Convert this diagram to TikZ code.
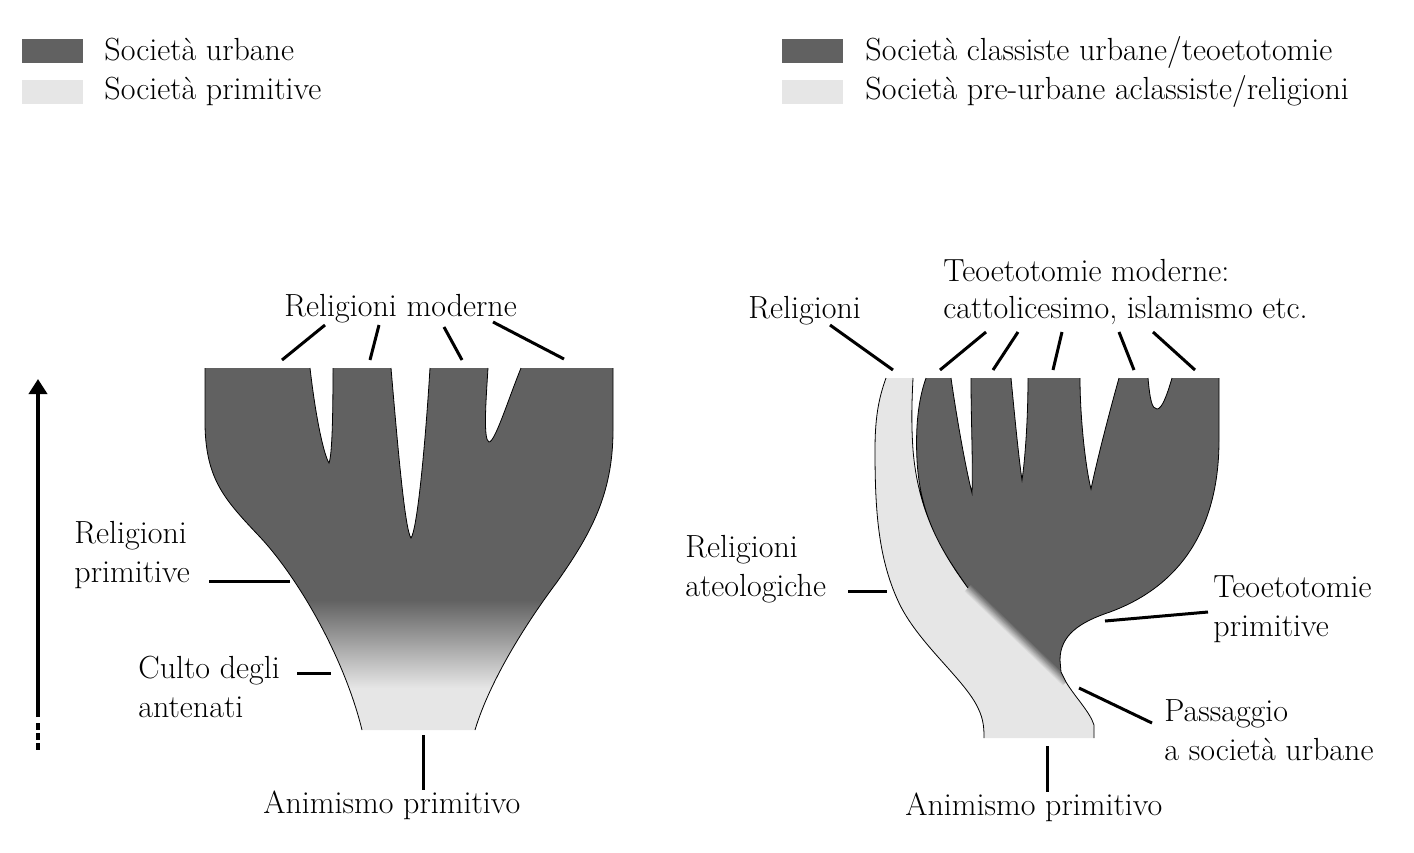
\documentclass[tikz,border=0pt]{standalone}
\usepackage{fontspec}
\usetikzlibrary{arrows.meta}
\usetikzlibrary{calc}
\definecolor{urbgray}{RGB}{97,97,97}    % urban societies
\definecolor{primgray}{RGB}{230,230,230} % primitive societies

% left tree (pixel grid, y downwards)
\def\lsideL{(362,730) .. controls (345,660) and (300,580) .. (260,537) .. controls (225,500) and (206,480) .. (205,425) -- (205,368)}
\def\lnotchA{(310,368) .. controls (316,420) and (324,455) .. (329,463) .. controls (332,455) and (333,420) .. (333,368)}
\def\lnotchB{(391,368) .. controls (398,450) and (405,530) .. (411,538) .. controls (417,530) and (425,450) .. (430,368)}
\def\lnotchC{(488,368) .. controls (486,400) and (483,440) .. (489,442) .. controls (495,442) and (508,400) .. (521,368)}
\def\lsideR{(613,368) -- (613,430) .. controls (613,495) and (590,535) .. (557,582) .. controls (527,622) and (490,680) .. (475,730)}
% right tree
\def\bandL{(886,378) .. controls (878,400) and (875,420) .. (875,450) .. controls (875,510) and (878,560) .. (900,605) .. controls (920,645) and (965,680) .. (978,708) .. controls (984,720) and (984,730) .. (984,738)}
\def\bandRlow{(1094,738) -- (1094,725) .. controls (1090,712) and (1075,697) .. (1066,682)}
\def\bandRup{(968,588) .. controls (940,550) and (918,510) .. (913,450) .. controls (911,420) and (912,400) .. (913,378)}
\def\darkL{(968,588) .. controls (945,555) and (920,520) .. (917,460) .. controls (915,420) and (920,395) .. (926,378)}
\def\rnotchA{(951,378) .. controls (957,420) and (966,470) .. (972,493) .. controls (973,460) and (971,420) .. (971,378)}
\def\rnotchB{(1011,378) .. controls (1015,420) and (1019,460) .. (1022,480) .. controls (1025,460) and (1028,420) .. (1028,378)}
\def\rnotchC{(1080,378) .. controls (1080,420) and (1086,470) .. (1091,489) .. controls (1097,460) and (1110,410) .. (1119,378)}
\def\rnotchD{(1148,378) .. controls (1150,400) and (1152,409) .. (1157,409) .. controls (1162,409) and (1167,395) .. (1172,378)}
\def\darkR{(1219,378) -- (1219,440) .. controls (1219,540) and (1170,590) .. (1110,612) .. controls (1080,622) and (1060,635) .. (1060,660) -- (1061,672) -- (1066,682)}

\begin{document}
\begin{tikzpicture}
  [x=0.5pt,y=-0.5pt,
   every node/.style={inner sep=0pt,anchor=base west,align=left,font=\fontsize{16}{19.5}\selectfont},
   keybox/.style={anchor=north west,minimum width=30.5pt,minimum height=12pt},
   leader/.style={line width=1.5pt},
   outline/.style={line width=0.4pt}]
  \useasboundingbox (0,0) rectangle (1414,852);

  \node (keyurb)[keybox,fill=urbgray]  at (22,39)  {};
  \node (keyprim)[keybox,fill=primgray] at (22,80) {};
  \node (txturb)  at (104,60) {Società urbane};
  \node (txtprim) at (104,99) {Società primitive};
  \node (keycls)[keybox,fill=urbgray]  at (782,39) {};
  \node (keyacl)[keybox,fill=primgray] at (782,80) {};
  \node (txtcls) at (865,60) {Società classiste urbane/teoetotomie};
  \node (txtacl) at (865,99) {Società pre-urbane aclassiste/religioni};

  % time arrow
  \coordinate (tbot) at (38,717);
  \coordinate (ttop) at (38,379);
  \coordinate (dtop) at (38,723);
  \coordinate (dbot) at (38,750);
  \draw [line width=2pt,-{Triangle[length=7.5pt,width=9pt]}] (tbot) -- (ttop);
  \draw [line width=2pt,dash pattern=on 3.5pt off 1.5pt] (dtop) -- (dbot);

  % left tree
  \begin{scope}
    \clip \lsideL -- \lnotchA -- \lnotchB -- \lnotchC -- \lsideR -- cycle;
    \fill [urbgray] (200,360) rectangle (620,600);
    \shade [top color=urbgray,bottom color=primgray] (200,600) rectangle (620,688);
    \fill [primgray] (200,688) rectangle (620,740);
  \end{scope}
  \draw [outline] \lsideL \lnotchA \lnotchB \lnotchC \lsideR;

  % right tree
  \fill [primgray] \bandL -- \bandRlow -- \bandRup -- cycle;
  \fill [urbgray] \darkL -- \rnotchA -- \rnotchB -- \rnotchC -- \rnotchD -- \darkR -- cycle;
  \coordinate (dg1) at (968,588);
  \coordinate (dg2) at (1066,682);
  \begin{scope}
    \clip \bandL -- \bandRlow -- \bandRup -- cycle \darkL -- \rnotchA -- \rnotchB -- \rnotchC -- \rnotchD -- \darkR -- cycle;
    \foreach \i in {-5,...,5} {
      \pgfmathtruncatemacro\mix{(\i+5)*10}
      \draw [line width=0.7pt,urbgray!\mix!primgray]
        ($(dg1)+\i*(0.6922,-0.7217)$) -- ($(dg2)+\i*(0.6922,-0.7217)$);
    }
  \end{scope}
  \draw [outline] \bandL \bandRlow \bandRup \darkL \rnotchA \rnotchB \rnotchC \rnotchD \darkR;

  % labels, left
  \node (relmod)  at (284,316) {Religioni moderne};
  \node (relprim) at (74,582)  {Religioni\\primitive};
  \node (culto)   at (138,717) {Culto degli\\antenati};
  \node (animL)   at (263,813) {Animismo primitivo};
  % labels, right
  \node (rel)     at (748,318) {Religioni};
  \node (teomod)  at (943,318) {Teoetotomie moderne:\\[-1.2pt]cattolicesimo, islamismo etc.};
  \node (relateo) at (685,596) {Religioni\\ateologiche};
  \node (teoprim) at (1213,636) {Teoetotomie\\primitive};
  \node (pass)    at (1164,760) {Passaggio\\a società urbane};
  \node (animR)   at (905,815) {Animismo primitivo};

  \coordinate (m1a) at (325,325);  \coordinate (m1b) at (282,360);
  \coordinate (m2a) at (379,325);  \coordinate (m2b) at (370,360);
  \coordinate (m3a) at (444,327);  \coordinate (m3b) at (462,360);
  \coordinate (m4a) at (493,322);  \coordinate (m4b) at (564,359);
  \coordinate (pa)  at (209,581);  \coordinate (pb)  at (290,581);
  \coordinate (ca)  at (297,673);  \coordinate (cb)  at (331,673);
  \coordinate (aLa) at (423,735);  \coordinate (aLb) at (423,790);
  \coordinate (ra)  at (830,325);  \coordinate (rb)  at (893,370);
  \coordinate (t1a) at (986,332);  \coordinate (t1b) at (940,370);
  \coordinate (t2a) at (1018,332); \coordinate (t2b) at (993,370);
  \coordinate (t3a) at (1062,332); \coordinate (t3b) at (1053,370);
  \coordinate (t4a) at (1119,332); \coordinate (t4b) at (1134,370);
  \coordinate (t5a) at (1153,332); \coordinate (t5b) at (1195,370);
  \coordinate (ata) at (848,591);  \coordinate (atb) at (887,591);
  \coordinate (tpa) at (1208,612); \coordinate (tpb) at (1105,621);
  \coordinate (psa) at (1152,723); \coordinate (psb) at (1079,688);
  \coordinate (aRa) at (1047,746); \coordinate (aRb) at (1047,792);

  \foreach \from/\to in {m1a/m1b,m2a/m2b,m3a/m3b,m4a/m4b,pa/pb,ca/cb,aLa/aLb,
                         ra/rb,t1a/t1b,t2a/t2b,t3a/t3b,t4a/t4b,t5a/t5b,ata/atb,tpa/tpb,psa/psb,aRa/aRb}
    \draw [leader] (\from) -- (\to);
\end{tikzpicture}
\end{document}
